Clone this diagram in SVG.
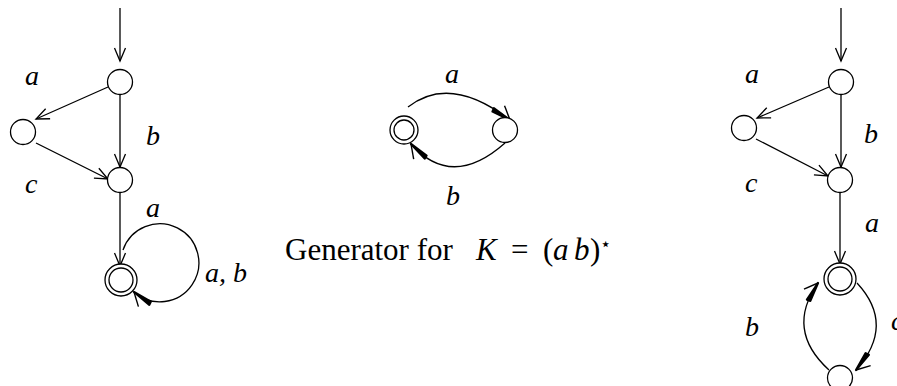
<svg xmlns="http://www.w3.org/2000/svg" width="897" height="386" viewBox="0 0 897 386">
<style>
.n{fill:#fff;stroke:#000;stroke-width:1.3}
.e{fill:none;stroke:#000;stroke-width:1.3}
.t{font-family:"Liberation Serif",serif;font-style:italic;font-size:28px;fill:#000}
.cap{font-family:"Liberation Serif",serif;font-size:31px;fill:#000}
</style>
<defs>
<marker id="open" markerUnits="userSpaceOnUse" markerWidth="16" markerHeight="14" refX="13" refY="6" orient="auto" overflow="visible">
<path d="M0,0.5 L13,6 L0,11.5" fill="none" stroke="#000" stroke-width="1.3"/>
</marker>
<marker id="bold" markerUnits="userSpaceOnUse" markerWidth="24" markerHeight="16" refX="22" refY="6" orient="auto" overflow="visible">
<path d="M22,6 L9,-2" fill="none" stroke="#000" stroke-width="1.4"/>
<path d="M22,6 L2,6.5 L3,10 z" fill="#000" stroke="#000" stroke-width="2.2" stroke-linejoin="round"/>
</marker>
</defs>

<g id="connectors">
<line class="e" x1="120" y1="8" x2="120" y2="61" marker-end="url(#open)"/>
<line class="e" x1="108" y1="87" x2="36" y2="119" marker-end="url(#open)"/>
<line class="e" x1="120" y1="95" x2="120" y2="167" marker-end="url(#open)"/>
<line class="e" x1="36" y1="143" x2="108" y2="179" marker-end="url(#open)"/>
<line class="e" x1="120" y1="193" x2="120" y2="266" marker-end="url(#open)"/>
<path class="e" d="M123,250 A39,39 0 1 1 134,292" marker-end="url(#bold)"/>
<path class="e" d="M408,107 Q450,74 510,120" marker-end="url(#bold)"/>
<path class="e" d="M505,143 Q452,190 411,144" marker-end="url(#bold)"/>
<line class="e" x1="841" y1="8" x2="841" y2="61" marker-end="url(#open)"/>
<line class="e" x1="829" y1="87" x2="757" y2="118" marker-end="url(#open)"/>
<line class="e" x1="841" y1="94" x2="841" y2="167" marker-end="url(#open)"/>
<line class="e" x1="756" y1="139" x2="828" y2="176" marker-end="url(#open)"/>
<line class="e" x1="840" y1="193" x2="840" y2="264" marker-end="url(#open)"/>
<path class="e" d="M857,283 Q896,325 856,370" marker-end="url(#bold)"/>
<path class="e" d="M829,370 Q785,330 818,283" marker-end="url(#bold)"/>
</g>

<g id="L1"><circle class="n" cx="120" cy="82" r="12.5"/></g>
<g id="L2"><circle class="n" cx="23" cy="132" r="12.5"/></g>
<g id="L3"><circle class="n" cx="120" cy="180" r="12.5"/></g>
<g id="L4"><circle class="n" cx="121" cy="280" r="16"/><circle class="n" cx="121" cy="280" r="12"/></g>

<g id="M1"><circle class="n" cx="404" cy="130" r="14"/><circle class="n" cx="404" cy="130" r="10"/></g>
<g id="M2"><circle class="n" cx="505" cy="130" r="12.5"/></g>

<g id="R1"><circle class="n" cx="841" cy="82" r="12.5"/></g>
<g id="R2"><circle class="n" cx="744" cy="128" r="12.5"/></g>
<g id="R3"><circle class="n" cx="840" cy="180" r="12.5"/></g>
<g id="R4"><circle class="n" cx="840" cy="279" r="16"/><circle class="n" cx="840" cy="279" r="12"/></g>
<g id="R5"><circle class="n" cx="840" cy="378" r="12.5"/></g>

<g id="labels">
<text class="t" x="25" y="85">a</text>
<text class="t" x="146" y="145">b</text>
<text class="t" x="25" y="193">c</text>
<text class="t" x="146" y="217">a</text>
<text class="t" x="205" y="282">a, b</text>

<text class="t" x="445" y="83">a</text>
<text class="t" x="446" y="205">b</text>

<text class="cap" x="285" y="260">Generator for <tspan x="476" style="font-style:italic">K</tspan><tspan x="511">=</tspan><tspan x="543">(</tspan><tspan x="553" style="font-style:italic">a</tspan><tspan x="574" style="font-style:italic">b</tspan><tspan x="590">)</tspan><tspan x="600" y="250" style="font-size:18px">⋆</tspan></text>

<text class="t" x="745" y="83">a</text>
<text class="t" x="864" y="143">b</text>
<text class="t" x="745" y="192">c</text>
<text class="t" x="865" y="232">a</text>
<text class="t" x="745" y="336">b</text>
<text class="t" x="891" y="330">c</text>
</g>
</svg>
